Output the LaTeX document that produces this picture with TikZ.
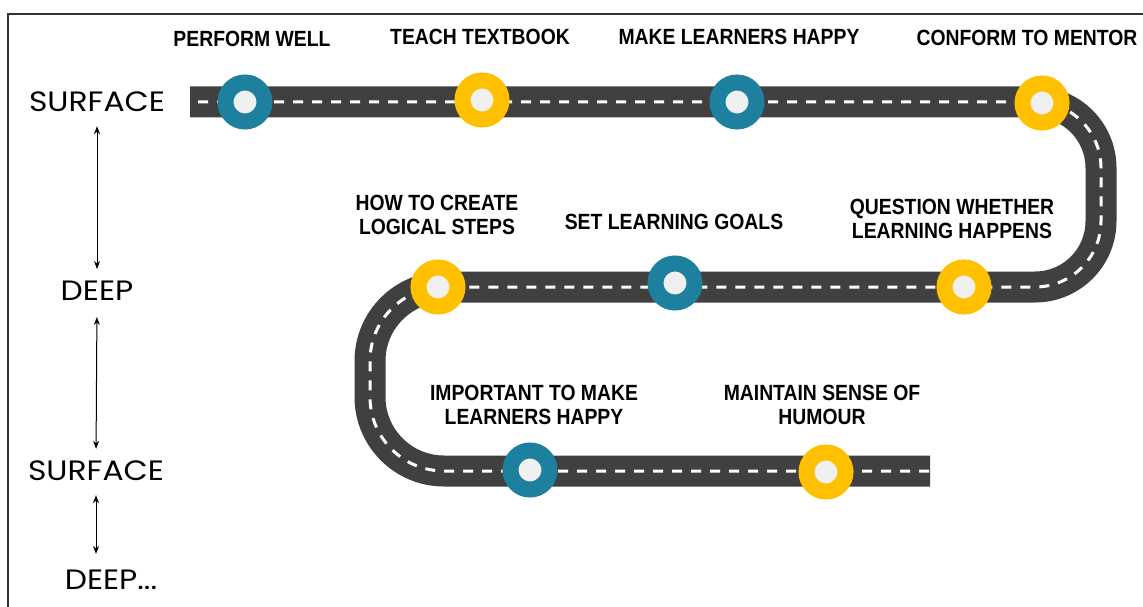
\documentclass[tikz,border=0pt]{standalone}
\usepackage{fontspec}
\usetikzlibrary{arrows.meta}
\newfontfamily\labfont[FakeStretch=0.88]{Liberation Sans}
\newfontfamily\sidefont[FakeStretch=1.12]{Poppins}
\definecolor{roadc}{HTML}{404040}
\definecolor{tealc}{HTML}{1C809E}
\definecolor{yelc}{HTML}{FFC000}
\definecolor{holec}{HTML}{F0F0F0}
\begin{document}
\begin{tikzpicture}[x=1pt,y=-1pt,
  marker/.style={circle,inner sep=0pt,minimum size=39pt,line width=16pt,fill=holec},
  tm/.style={marker,draw=tealc},
  ym/.style={marker,draw=yelc},
  lab/.style={font=\labfont\bfseries\fontsize{22}{24}\selectfont,align=center,inner sep=0pt,text=black},
  side/.style={font=\sidefont\fontsize{28}{30}\selectfont,inner sep=0pt,text=black},
  dbl/.style={{Stealth[length=8pt,width=6pt]}-{Stealth[length=8pt,width=6pt]},line width=1pt}
]
\useasboundingbox (0,0) rectangle (1143,607);
% frame
\draw[line width=1.5pt,color=roadc!80!black] (8,607) -- (8,14) -- (1143,14);
% road
\def\roadpath{(190,102) [rounded corners=66] -- (1101,102) -- (1101,287) [rounded corners=74] -- (370,287) -- (370,471) [sharp corners] -- (930,471)}
\draw[line width=31pt,color=roadc,line cap=butt] \roadpath;
\draw[line width=3pt,color=white,dash pattern=on 10pt off 9pt,dash phase=-8pt] \roadpath;
% markers
\node[tm] (m1) at (245,102) {};
\node[ym] (m2) at (482,100) {};
\node[tm] (m3) at (737,102) {};
\node[ym] (m4) at (1042,103) {};
\node[ym] (m5) at (438,287) {};
\node[tm] (m6) at (675,283) {};
\node[ym] (m7) at (964,287) {};
\node[tm] (m8) at (530,470) {};
\node[ym] (m9) at (826,472) {};
% labels
\node[lab] (l1) at (252,39) {PERFORM WELL};
\node[lab] (l2) at (480,37) {TEACH TEXTBOOK};
\node[lab] (l3) at (739,37) {MAKE LEARNERS HAPPY};
\node[lab] (l4) at (1027,38) {CONFORM TO MENTOR};
\node[lab] (l5) at (437,215) {HOW TO CREATE\\LOGICAL STEPS};
\node[lab] (l6) at (674,222) {SET LEARNING GOALS};
\node[lab] (l7) at (952,219) {QUESTION WHETHER\\LEARNING HAPPENS};
\node[lab] (l8) at (534,405) {IMPORTANT TO MAKE\\LEARNERS HAPPY};
\node[lab] (l9) at (822,405) {MAINTAIN SENSE OF\\HUMOUR};
% side labels
\node[side] (s1) at (97,102) {SURFACE};
\node[side] (d1) at (97,291) {DEEP};
\node[side] (s2) at (96,471) {SURFACE};
\node[side] (d2) at (111,580) {DEEP...};
\draw[dbl,shorten <=14pt,shorten >=12pt] (s1.south) -- (d1.north);
\draw[dbl,shorten <=16pt,shorten >=12pt] (d1.south) -- (s2.north);
\draw[dbl,shorten <=14pt,shorten >=16pt] (s2.south) -- (s2.south |- d2.north);
\end{tikzpicture}
\end{document}
